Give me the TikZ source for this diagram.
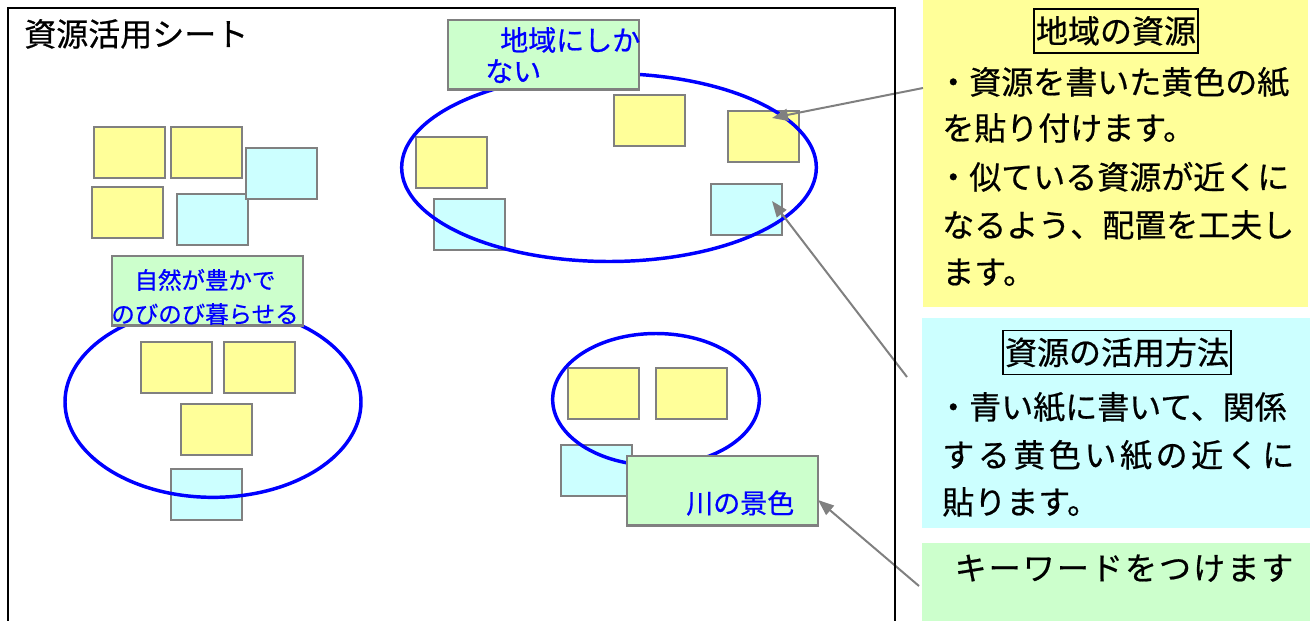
\documentclass[tikz,border=0pt]{standalone}
\usepackage{fontspec}
\newfontfamily\jp{Noto Sans CJK JP}[FakeBold=0.6]
\usetikzlibrary{arrows.meta,shapes.geometric}
\definecolor{ynote}{HTML}{FFFF99}
\definecolor{cnote}{HTML}{CCFFFF}
\definecolor{gnote}{HTML}{CCFFCC}
\definecolor{edgegray}{HTML}{808080}
\definecolor{ovalblue}{HTML}{0000FF}
\newcommand\myfs[1]{\fontsize{#1}{#1}\selectfont}
\tikzset{
  note/.style={draw=edgegray, line width=1.7pt, anchor=north west, inner sep=0pt,
               minimum width=53pt, minimum height=38pt},
  yel/.style={note, fill=ynote},
  cya/.style={note, fill=cnote},
  kwlabel/.style={draw=edgegray, line width=1.7pt, fill=gnote, anchor=north west, inner sep=0pt,
               minimum width=143pt, minimum height=52pt},
  oval/.style={draw=ovalblue, line width=2.6pt, ellipse, inner sep=0pt},
  panel/.style={anchor=north west, inner sep=0pt},
  jt/.style={font=\jp\myfs{24pt}, inner sep=0pt, text height=21pt, text depth=3pt},
  head/.style={jt, draw=black, line width=1.3pt, inner xsep=1.5pt, inner ysep=4.5pt},
  bluetxt/.style={inner sep=0pt, text=ovalblue},
  conn/.style={draw=edgegray, line width=1.5pt, -{Triangle[length=12pt,width=9pt]}},
}
\begin{document}
\begin{tikzpicture}[x=0.75pt,y=-0.75pt]
\useasboundingbox (0,0) rectangle (1315,621);
\clip (0,0) rectangle (1315,621);

% right-hand explanation panels
\node[panel, fill=ynote, minimum width=288.75pt, minimum height=234pt] (ypanel) at (923,-5) {};
\node[panel, fill=cnote, minimum width=291pt, minimum height=157.5pt] (cpanel) at (922,318) {};
\node[panel, fill=gnote, minimum width=291pt, minimum height=65.25pt] (gpanel) at (922,543) {};

% top-left cluster
\node[yel] (a1) at (93,126) {};
\node[yel] (a2) at (170,126) {};
\node[yel] (a3) at (91,186) {};
\node[cya] (a4) at (176,193) {};
\node[cya] (a5) at (245,147) {};

% top oval cluster
\node[yel] (b1) at (613,94) {};
\node[yel] (b2) at (727,110) {};
\node[yel] (b3) at (415,136) {};
\node[cya] (b4) at (433,198) {};
\node[cya] (b5) at (710,183) {};

% left oval cluster
\node[yel] (c1) at (140,341) {};
\node[yel] (c2) at (223,341) {};
\node[yel] (c3) at (180,403) {};
\node[cya] (c4) at (170,468) {};

% river cluster
\node[yel] (d1) at (567,367) {};
\node[yel] (d2) at (655,367) {};
\node[cya] (d3) at (560,444) {};

% ovals
\node[oval, minimum width=311pt, minimum height=141pt] (e1) at (609,167.5) {};
\node[oval, minimum width=222pt, minimum height=143pt] (e2) at (213,402) {};
\node[oval, minimum width=155pt, minimum height=99pt] (e3) at (656,399.5) {};

% keyword labels
\node[kwlabel] (k1) at (447,19) {};
\node[kwlabel] (k2) at (111,255) {};
\node[kwlabel] (k3) at (626,455) {};
\node[bluetxt, anchor=west, font=\jp\myfs{21pt}, text height=18.5pt, text depth=2.5pt] (k1a) at (500,40) {地域にしか};
\node[bluetxt, anchor=west, font=\jp\myfs{21pt}, text height=18.5pt, text depth=2.5pt] (k1b) at (485,71) {ない};
\node[bluetxt, font=\jp\myfs{17.6pt}, text height=15.5pt, text depth=2.1pt] (k2a) at (205,280) {自然が豊かで};
\node[bluetxt, font=\jp\myfs{17.6pt}, text height=15.5pt, text depth=2.1pt] (k2b) at (205,314) {のびのび暮らせる};
\node[bluetxt, anchor=west, font=\jp\myfs{20.25pt}, text height=17.8pt, text depth=2.4pt] (k3a) at (686,503) {川の景色};

% title
\node[jt, anchor=west] (title) at (24,34) {資源活用シート};

% connectors
\coordinate (s1) at (923,88);  \coordinate (t1) at (772,118);
\coordinate (s2) at (907,377); \coordinate (t2) at (772,201);
\coordinate (s3) at (919,586); \coordinate (t3) at (818,500);
\draw[conn] (s1) -- (t1);
\draw[conn] (s2) -- (t2);
\draw[conn] (s3) -- (t3);

% sheet frame
\draw[line width=1.5pt] (8,640) -- (8,8) -- (895,8) -- (895,640);

% yellow panel text
\node[head] (yh) at (1116,31) {地域の資源};
\node[jt, anchor=west] (y1) at (937,82) {・資源を書いた黄色の紙};
\node[jt, anchor=west] (y2) at (942,128) {を貼り付けます。};
\node[jt, anchor=west] (y3) at (937,177) {・似ている資源が近くに};
\node[jt, anchor=west] (y4) at (942,225) {なるよう、配置を工夫し};
\node[jt, anchor=west] (y5) at (942,272) {ます。};

% cyan panel text
\node[head] (ch) at (1117,352.5) {資源の活用方法};
\node[jt, anchor=west] (cl1) at (937,407) {・青い紙に書いて、関係};
\node[jt, anchor=west] (cl2) at (942,455) {\makebox[264pt][l]{す\hfill る\hfill 黄\hfill 色\hfill い\hfill 紙\hfill の\hfill 近\hfill く\hfill に}};
\node[jt, anchor=west] (cl3) at (942,502) {貼ります。};

% green panel text
\node[jt] (gl) at (1124,568) {\makebox[254pt][l]{キ\hfill ー\hfill ワ\hfill ー\hfill ド\hfill を\hfill つ\hfill け\hfill ま\hfill す}};
\end{tikzpicture}
\end{document}
